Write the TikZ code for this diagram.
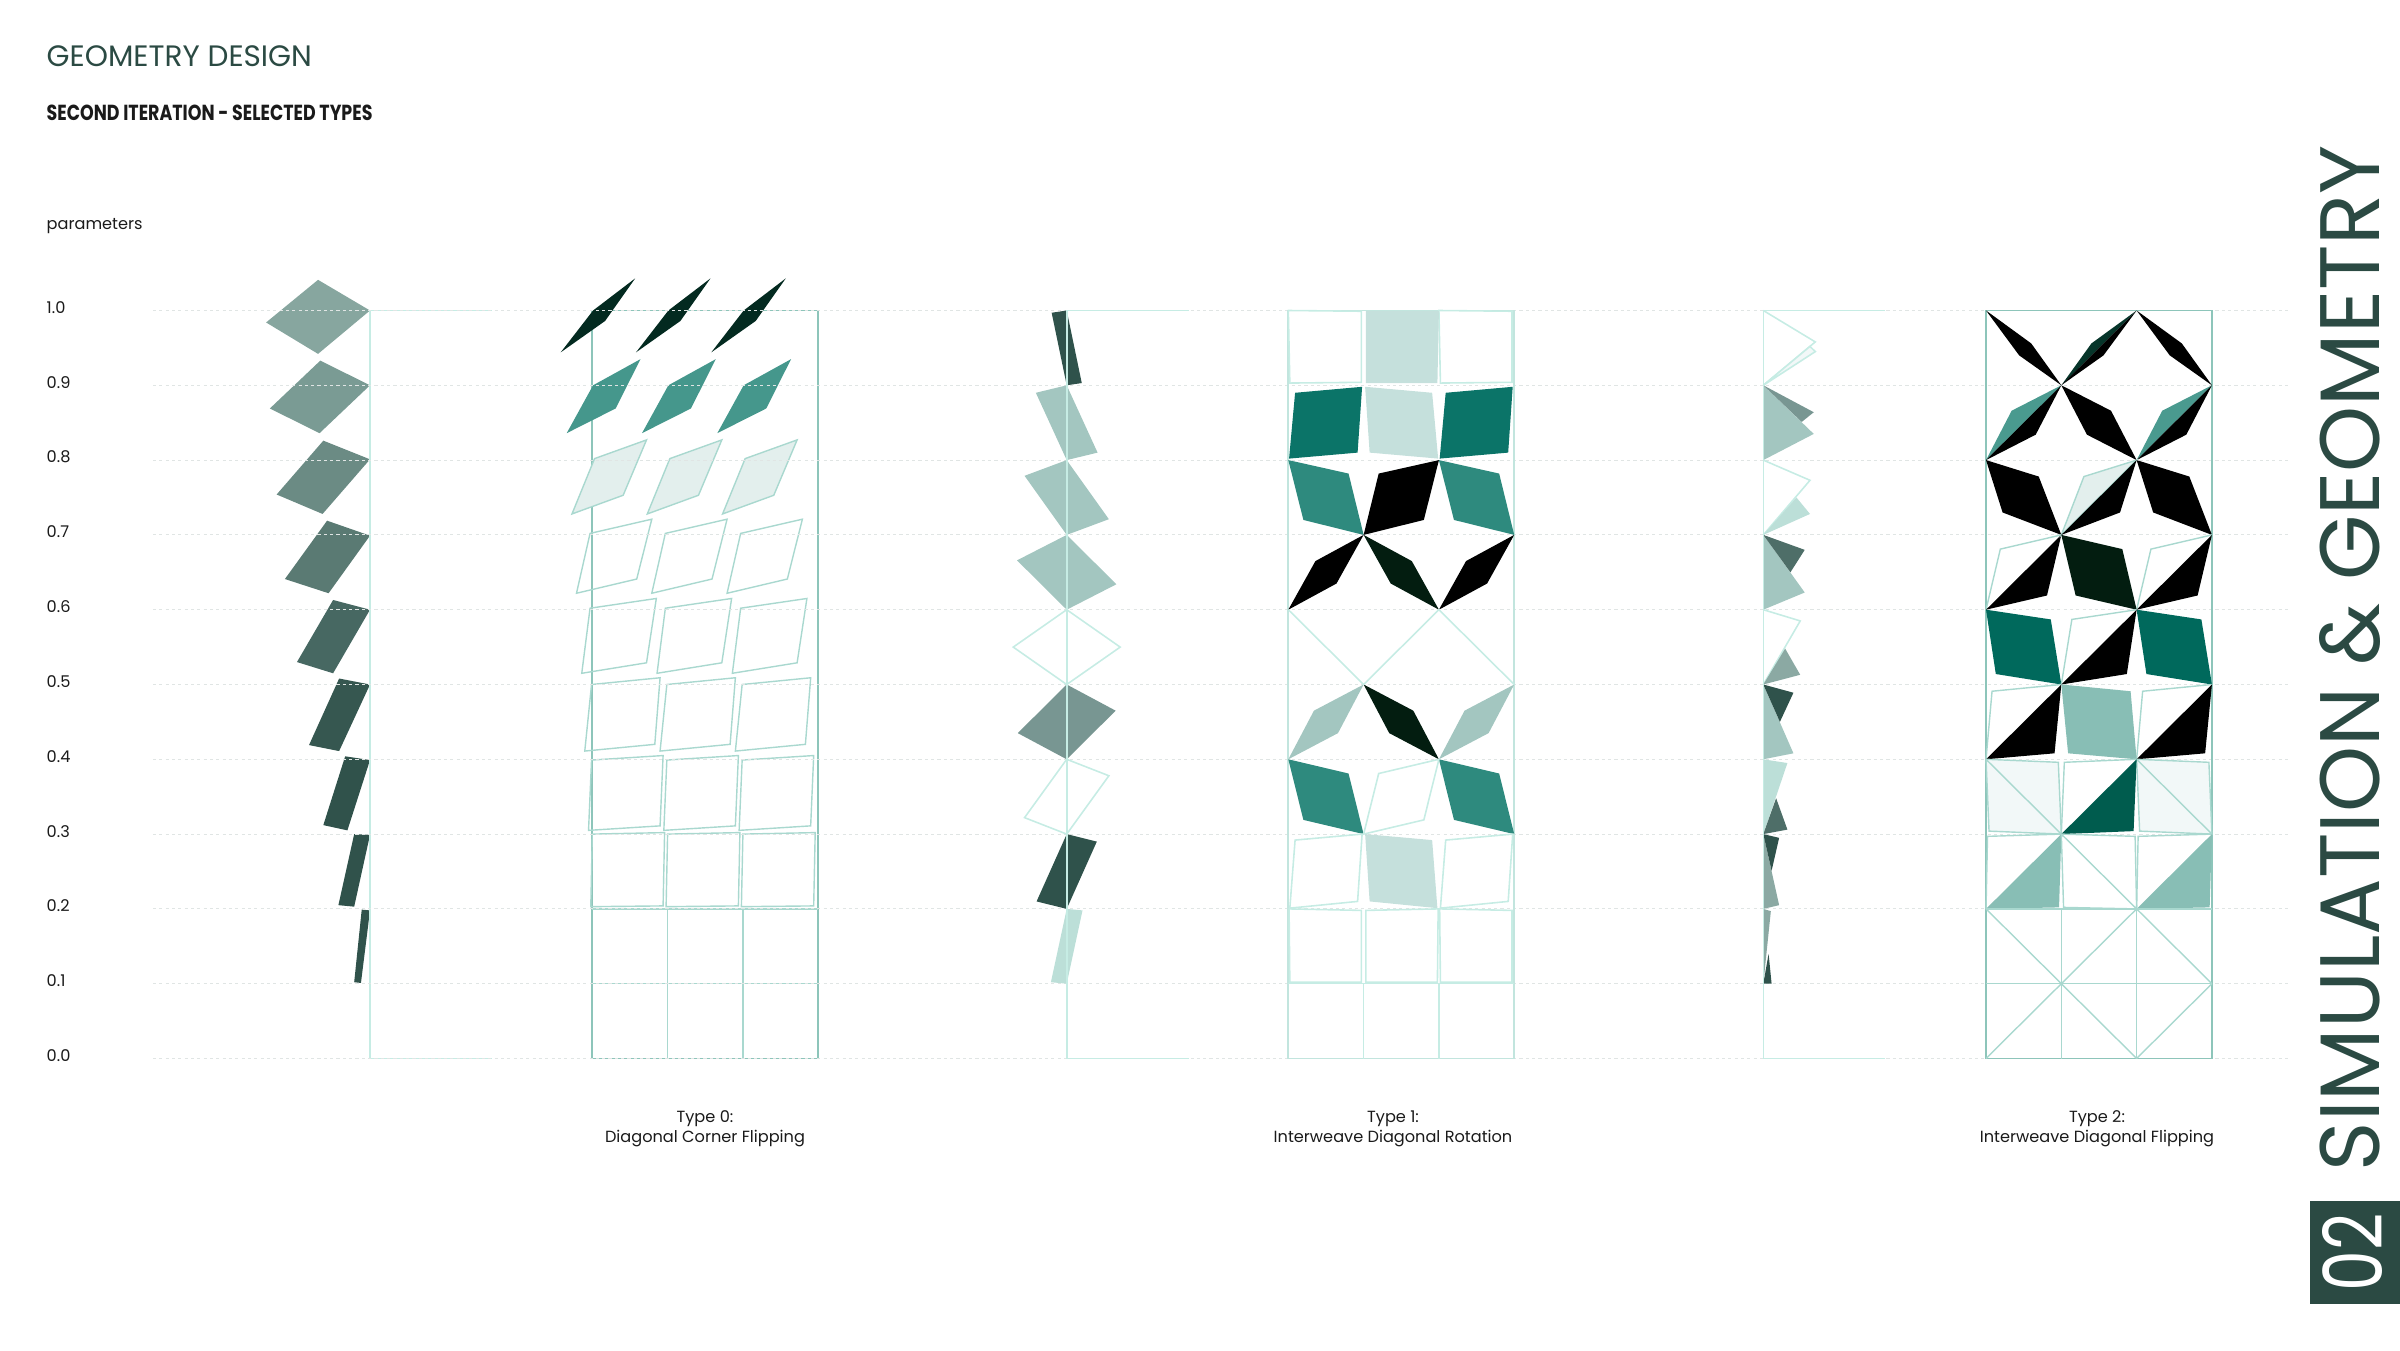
\documentclass[tikz,border=0pt]{standalone}
\usepackage{fontspec}
\setmainfont{Poppins}
\usetikzlibrary{positioning}
\definecolor{ink}{HTML}{2B4A43}
\definecolor{txt}{HTML}{1A1A1A}
\definecolor{rulegray}{HTML}{E0E5E4}
\definecolor{mint}{HTML}{C6ECE4}
\definecolor{frameteal}{HTML}{8DC5BA}
\definecolor{paleline}{HTML}{C2E5DE}
\definecolor{tileline}{HTML}{A9D8CF}
\definecolor{sageA}{HTML}{87A69F}
\definecolor{sageB}{HTML}{7A9B94}
\definecolor{sageC}{HTML}{6B8B84}
\definecolor{sageD}{HTML}{5A7A73}
\definecolor{sageE}{HTML}{476862}
\definecolor{sageF}{HTML}{365750}
\definecolor{sageG}{HTML}{30524B}
\definecolor{nightgreen}{HTML}{032A20}
\definecolor{seateal}{HTML}{45978C}
\definecolor{frost}{HTML}{E3EFED}
\definecolor{deepteal}{HTML}{0B7468}
\definecolor{midteal}{HTML}{2E8A7E}
\definecolor{fog}{HTML}{C5E0DC}
\definecolor{haze}{HTML}{A3C6C0}
\definecolor{blackgreen}{HTML}{031D10}
\definecolor{slate}{HTML}{2F524B}
\definecolor{ash}{HTML}{789692}
\definecolor{moss}{HTML}{4E6E68}
\definecolor{pewter}{HTML}{8BA9A3}
\definecolor{ice}{HTML}{BCDFD8}
\definecolor{jade}{HTML}{00695C}
\definecolor{lagoon}{HTML}{88BEB5}
\definecolor{snow}{HTML}{F2F8F8}
\definecolor{pine}{HTML}{005C4E}
\definecolor{forest}{HTML}{06352A}
\definecolor{aqua}{HTML}{4A9A8F}
\tikzset{
  every node/.style={text=ink,inner sep=0pt},
  axislabel/.style={font=\fontsize{4.6}{5.5}\selectfont,text=txt,anchor=west},
  typecaption/.style={font=\fontsize{4.6}{5.7}\selectfont,text=txt,align=center},
  gridrule/.style={draw=rulegray,line width=0.3pt,dash pattern=on 0.9pt off 0.9pt},
  colbracket/.style={draw=mint,line width=0.45pt},
  gridframe/.style={draw=frameteal,line width=0.55pt},
  paleframe/.style={draw=paleline,line width=0.5pt},
  tileedge/.style={draw=tileline,line width=0.4pt},
  paleedge/.style={draw=mint,line width=0.45pt},
  slatetile/.style={fill=slate},
  hazetile/.style={fill=haze},
  ashtile/.style={fill=ash},
  icetile/.style={fill=ice},
  emptytile/.style={paleedge},
  cellunits/.style={x=7.53mm,y=-7.48mm},
}
\begin{document}
\begin{tikzpicture}[x=0.1mm,y=-0.1mm]
\useasboundingbox (0,0) rectangle (2400,1350);

% headings
\node[anchor=west,font=\fontsize{8.4}{10}\selectfont] (title) at (46,56) {GEOMETRY DESIGN};
\node[anchor=west,text=txt,font=\fontsize{6.2}{7}\selectfont\bfseries] (subtitle) at (46,113) {\scalebox{0.8}[1]{SECOND ITERATION - SELECTED TYPES}};
\node[axislabel] (params) at (46,226) {parameters};
\foreach \i/\t in {0/1.0,1/0.9,2/0.8,3/0.7,4/0.6,5/0.5,6/0.4,7/0.3,8/0.2,9/0.1,10/0.0}
  \node[axislabel] (p\i) at (46,{307.5+74.8*\i}) {\t};

% type 0 : parameter column
\begin{scope}[shift={(370,310.5)},cellunits]
  \fill[sageA] (0,0) -- (-0.69,-0.41) -- (-1.38,0.16) -- (-0.69,0.58) -- cycle;
  \fill[sageB] (0,1) -- (-0.66,0.67) -- (-1.33,1.31) -- (-0.67,1.64) -- cycle;
  \fill[sageC] (0,1.99) -- (-0.62,1.74) -- (-1.24,2.46) -- (-0.63,2.72) -- cycle;
  \fill[sageD] (0,3.01) -- (-0.57,2.81) -- (-1.13,3.59) -- (-0.55,3.78) -- cycle;
  \fill[sageE] (0,4) -- (-0.49,3.87) -- (-0.97,4.7) -- (-0.49,4.85) -- cycle;
  \fill[sageF] (0,5) -- (-0.41,4.92) -- (-0.81,5.81) -- (-0.41,5.89) -- cycle;
  \fill[sageG] (0,6.01) -- (-0.33,5.96) -- (-0.62,6.88) -- (-0.30,6.95) -- cycle;
  \fill[sageG] (0,7.01) -- (-0.21,7) -- (-0.42,7.95) -- (-0.21,7.97) -- cycle;
  \fill[sageG] (0,8.02) -- (-0.11,8.01) -- (-0.21,8.98) -- (-0.12,8.99) -- cycle;
  \draw[colbracket] (1.62,0) -- (0,0) -- (0,10) -- (1.62,10);
\end{scope}

% type 0 : grid
\begin{scope}[shift={(592.3,310.5)},cellunits]
  \draw[gridframe] (0,0) rectangle (3,10);
  \foreach \c in {0,1,2}{
    \begin{scope}[shift={(\c,0)}]
      \fill[nightgreen] (-0.42,0.56) -- (0.01,0) -- (0.57,-0.43) -- (0.17,0.14) -- cycle;
      \fill[seateal] (-0.34,1.64) -- (0.01,1) -- (0.64,0.65) -- (0.31,1.31) -- cycle;
      \filldraw[tileedge,fill=frost] (-0.27,2.72) -- (0.03,1.98) -- (0.72,1.73) -- (0.41,2.47) -- cycle;
      \draw[tileedge] (-0.21,3.78) -- (-0.03,2.98) -- (0.79,2.79) -- (0.59,3.59) -- cycle;
      \draw[tileedge] (-0.14,4.85) -- (-0.03,3.98) -- (0.85,3.85) -- (0.72,4.71) -- cycle;
      \draw[tileedge] (-0.10,5.89) -- (-0.01,5) -- (0.90,4.91) -- (0.83,5.80) -- cycle;
      \draw[tileedge] (-0.05,6.95) -- (-0.01,6.01) -- (0.94,5.95) -- (0.90,6.89) -- cycle;
      \draw[tileedge] (-0.02,7.97) -- (0,7) -- (0.96,6.98) -- (0.94,7.96) -- cycle;
    \end{scope}
  }
  \foreach \k in {1,2} \draw[tileedge] (\k,8) -- (\k,10);
  \draw[tileedge] (0,8) -- (3,8) (0,9) -- (3,9);
\end{scope}

% parameter rules
\foreach \i in {0,...,10}
  \draw[gridrule] (153,{310.5+74.8*\i}) -- (2288,{310.5+74.8*\i});

% type 1 : parameter column
\begin{scope}[shift={(1066.7,310.5)},cellunits]
  \foreach \i/\a/\b/\s in {0/0.20/0.97/slatetile,1/0.41/0.90/hazetile,2/0.56/0.79/hazetile,3/0.66/0.66/hazetile,4/0.71/0.50/emptytile,5/0.65/0.35/ashtile,6/0.56/0.22/emptytile,7/0.40/0.10/slatetile,8/0.21/0.02/icetile}
    \path[\s] (0,\i) -- (\a,\i+\b) -- (0,\i+1) -- (-\a,\i+1-\b) -- cycle;
  \draw[colbracket] (1.62,0) -- (0,0) -- (0,10) -- (1.62,10);
\end{scope}

% type 1 : grid
\begin{scope}[shift={(1288.3,310.5)},cellunits]
  \draw[paleframe] (0,0) rectangle (3,10);
  \foreach \c in {0,2}{
    \begin{scope}[shift={(\c,0)}]
      \draw[paleedge] (0,0) -- (0.97,0.01) -- (0.97,0.96) -- (0.02,0.97) -- cycle;
      \fill[deepteal] (0.09,1.1) -- (0.98,1.02) -- (0.92,1.9) -- (0.01,1.98) -- cycle;
      \fill[midteal] (0,2) -- (0.8,2.18) -- (1,3) -- (0.2,2.8) -- cycle;
      \fill[black] (0,4) -- (0.36,3.35) -- (1,3) -- (0.64,3.65) -- cycle;
      \fill[haze] (0,6) -- (0.34,5.35) -- (1,5) -- (0.66,5.65) -- cycle;
      \fill[midteal] (0,6) -- (0.8,6.19) -- (1,7) -- (0.2,6.81) -- cycle;
      \draw[paleedge] (0.09,7.08) -- (0.98,7) -- (0.92,7.9) -- (0.02,7.99) -- cycle;
      \draw[paleedge] (0.01,8) -- (0.97,8.02) -- (0.97,8.98) -- (0.02,8.98) -- cycle;
    \end{scope}
  }
  \fill[fog] (2,0.01) -- (1.03,0.01) -- (1.03,0.97) -- (1.98,0.97) -- cycle;
  \fill[fog] (1.91,1.1) -- (1.02,1.02) -- (1.08,1.9) -- (1.99,1.98) -- cycle;
  \fill[black] (2,2) -- (1.2,2.18) -- (1,3) -- (1.8,2.8) -- cycle;
  \fill[blackgreen] (2,4) -- (1.64,3.35) -- (1,3) -- (1.36,3.65) -- cycle;
  \fill[blackgreen] (2,6) -- (1.66,5.35) -- (1,5) -- (1.34,5.65) -- cycle;
  \draw[paleedge] (2,6) -- (1.2,6.19) -- (1,7) -- (1.8,6.81) -- cycle;
  \fill[fog] (1.91,7.08) -- (1.02,7) -- (1.08,7.9) -- (1.98,7.99) -- cycle;
  \draw[paleedge] (1.99,8) -- (1.03,8.02) -- (1.03,8.98) -- (1.98,8.98) -- cycle;
  \draw[paleedge] (0,4) -- (1,5) -- (2,4) -- (3,5);
  \foreach \k in {1,2} \draw[paleedge] (\k,9) -- (\k,10);
  \draw[paleedge] (0,9) -- (3,9);
\end{scope}

% type 2 : parameter column
\begin{scope}[shift={(1763.3,310.5)},cellunits]
  \draw[paleedge] (0,0) -- (0.69,0.42) -- (0,1);
  \filldraw[paleedge,fill=snow] (0,1) -- (0.69,0.55) -- (0.62,0.48) -- cycle;
  \fill[haze] (0,1) -- (0.67,1.65) -- (0,2) -- cycle;
  \fill[ash] (0,1) -- (0.67,1.36) -- (0.51,1.49) -- cycle;
  \draw[paleedge] (0,2) -- (0.62,2.27) -- (0,3);
  \fill[ice] (0,3) -- (0.44,2.5) -- (0.62,2.72) -- cycle;
  \fill[haze] (0,3) -- (0.55,3.77) -- (0,4) -- cycle;
  \fill[moss] (0,3) -- (0.55,3.2) -- (0.36,3.5) -- cycle;
  \draw[paleedge] (0,4) -- (0.49,4.15) -- (0,5);
  \fill[pewter] (0,5) -- (0.29,4.52) -- (0.49,4.87) -- cycle;
  \fill[haze] (0,5) -- (0.4,5.92) -- (0,6) -- cycle;
  \fill[slate] (0,5) -- (0.4,5.11) -- (0.22,5.5) -- cycle;
  \fill[ice] (0,6) -- (0.32,6.05) -- (0,7) -- cycle;
  \fill[moss] (0,7) -- (0.17,6.52) -- (0.32,6.94) -- cycle;
  \fill[pewter] (0,7) -- (0.21,7.95) -- (0,8) -- cycle;
  \fill[slate] (0,7) -- (0.21,7.05) -- (0.11,7.49) -- cycle;
  \fill[pewter] (0,8) -- (0.1,8.03) -- (0,9) -- cycle;
  \fill[slate] (0,9) -- (0.07,8.6) -- (0.11,9) -- cycle;
  \draw[colbracket] (1.62,0) -- (0,0) -- (0,10) -- (1.62,10);
\end{scope}

% type 2 : grid
\begin{scope}[shift={(1986,310.5)},cellunits]
  \draw[gridframe] (0,0) rectangle (3,10);
  \foreach \c in {0,2}{
    \begin{scope}[shift={(\c,0)}]
      \fill[black] (0,0) -- (0.6,0.44) -- (1,1) -- (0.44,0.6) -- cycle;
      \fill[aqua] (0,2) -- (0.34,1.34) -- (1,1) -- cycle;
      \fill[black] (0,2) -- (1,1) -- (0.66,1.66) -- cycle;
      \fill[black] (0,2) -- (0.7,2.22) -- (1,3) -- (0.22,2.7) -- cycle;
      \draw[tileedge] (0,4) -- (0.19,3.19) -- (1,3);
      \fill[black] (0,4) -- (1,3) -- (0.81,3.81) -- cycle;
      \fill[jade] (0,4) -- (0.86,4.13) -- (1,5) -- (0.13,4.86) -- cycle;
      \draw[tileedge] (0,6) -- (0.08,5.09) -- (1,5);
      \fill[black] (0,6) -- (1,5) -- (0.91,5.92) -- cycle;
      \filldraw[tileedge,fill=snow] (0,6) -- (0.96,6.04) -- (1,7) -- (0.04,6.96) -- cycle;
      \draw[tileedge] (0,6) -- (1,7);
      \draw[tileedge] (0,8) -- (0.02,7.03) -- (1,7);
      \fill[lagoon] (0,8) -- (1,7) -- (0.97,7.98) -- cycle;
      \draw[tileedge] (0,8) -- (1,9) (0,10) -- (1,9);
    \end{scope}
  }
  \fill[forest] (1,1) -- (1.4,0.44) -- (2,0) -- cycle;
  \fill[black] (1,1) -- (2,0) -- (1.56,0.6) -- cycle;
  \fill[black] (1,1) -- (1.66,1.34) -- (2,2) -- (1.34,1.66) -- cycle;
  \filldraw[tileedge,fill=frost] (1,3) -- (1.3,2.22) -- (2,2) -- cycle;
  \fill[black] (1,3) -- (2,2) -- (1.78,2.7) -- cycle;
  \fill[blackgreen] (1,3) -- (1.81,3.19) -- (2,4) -- (1.19,3.81) -- cycle;
  \draw[tileedge] (1,5) -- (1.14,4.13) -- (2,4);
  \fill[black] (1,5) -- (2,4) -- (1.87,4.86) -- cycle;
  \fill[lagoon] (1,5) -- (1.92,5.09) -- (2,6) -- (1.09,5.92) -- cycle;
  \draw[tileedge] (1,7) -- (1.04,6.04) -- (2,6);
  \fill[pine] (1,7) -- (2,6) -- (1.96,6.96) -- cycle;
  \draw[tileedge] (1,7) -- (1.98,7.03) -- (2,8) -- (1.03,7.98) -- cycle (1,7) -- (2,8);
  \draw[tileedge] (1,9) -- (2,8) (1,9) -- (2,10);
  \foreach \k in {1,2} \draw[tileedge] (\k,8) -- (\k,10);
  \draw[tileedge] (0,8) -- (3,8) (0,9) -- (3,9);
\end{scope}

% captions
\node[typecaption] (cap0) at (705,1129) {Type 0:\\Diagonal Corner Flipping};
\node[typecaption] (cap1) at (1393,1129) {Type 1:\\Interweave Diagonal Rotation};
\node[typecaption] (cap2) at (2097,1129) {Type 2:\\Interweave Diagonal Flipping};

% chapter tab
\node[rotate=90] (chaptitle) at (2350,658) {\resizebox{10.26cm}{0.6cm}{SIMULATION \& GEOMETRY}};
\fill[ink] (2310,1201) rectangle (2400,1304);
\node[rotate=90,text=white] (chapnum) at (2352,1252) {\resizebox{0.78cm}{0.6cm}{02}};

\end{tikzpicture}
\end{document}
